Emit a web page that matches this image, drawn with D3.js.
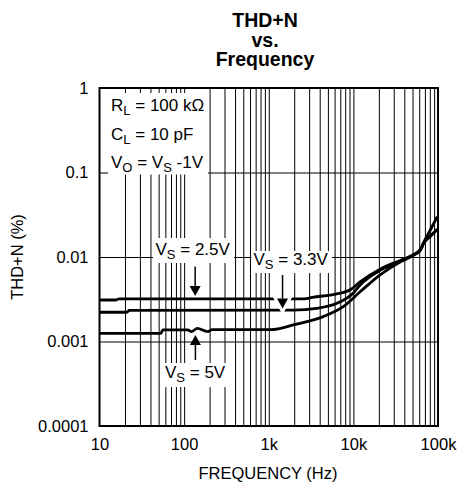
<!DOCTYPE html>
<html><head><meta charset="utf-8">
<script src="https://cdn.jsdelivr.net/npm/d3@7"></script>
<style>
html,body{margin:0;padding:0;background:#fff;}
svg{display:block;}
text{font-family:"Liberation Sans",Arial,Helvetica,sans-serif;fill:#000;}
</style></head>
<body>
<svg id="c" width="458" height="485"></svg>
<script>
// ---- data ----
const xTickValues = [10, 100, 1000, 10000, 100000];
const xTickLabels = ["10", "100", "1k", "10k", "100k"];
const yTickValues = [0.0001, 0.001, 0.01, 0.1, 1];
const yTickLabels = ["0.0001", "0.001", "0.01", "0.1", "1"];

const freq25 = [10, 15.7, 17, 1000, 2600, 3400, 5300, 9200, 12100, 20900, 35700, 47000, 61800, 68000, 81500, 98000];
const thd25  = [0.0031, 0.0031, 0.0032, 0.0032, 0.0032, 0.00335, 0.00355, 0.0041, 0.0051, 0.0072, 0.0091, 0.0102, 0.0122, 0.0150, 0.0210, 0.0300];

const freq33 = [10, 21, 22.5, 1950, 3700, 6400, 10000, 12100, 20900, 35700, 47000, 61800, 68000, 81500, 98000];
const thd33  = [0.00222, 0.00222, 0.00233, 0.00235, 0.00247, 0.00283, 0.00375, 0.0047, 0.0070, 0.0089, 0.0101, 0.0121, 0.0148, 0.0178, 0.0213];

const freq5 = [10, 53, 56, 110, 122, 143, 190, 215, 1040, 1370, 1960, 2360, 4400, 7600, 12100, 20900, 35700, 47000, 61800, 68000, 81500, 98000];
const thd5  = [0.00125, 0.00125, 0.00137, 0.00137, 0.00131, 0.00143, 0.00131, 0.00138, 0.00138, 0.00143, 0.00157, 0.00164, 0.00197, 0.00258, 0.0039, 0.0062, 0.0087, 0.0100, 0.0120, 0.0146, 0.0176, 0.0212];

const titleLines = ["THD+N", "vs.", "Frequency"];
const xTitle = "FREQUENCY (Hz)";
const yTitle = "THD+N (%)";

// ---- layout ----
const L = 99.5, R = 438, T = 88, B = 426;
const svg = d3.select("#c");
const x = d3.scaleLog().domain([10, 100000]).range([L, R]);
const y = d3.scaleLog().domain([0.0001, 1]).range([B, T]);

// grid (vertical: every 1..9 multiple)
const gridX = x.ticks().filter(v => v > 10 && v < 100000);
svg.append("g").attr("transform", `translate(0,${B})`)
  .call(d3.axisBottom(x).tickValues(gridX).tickSize(-(B - T)).tickFormat(""))
  .call(g => g.select(".domain").remove())
  .call(g => g.selectAll("line").attr("stroke", "#000").attr("stroke-width", 1));
svg.append("g").attr("transform", `translate(${L},0)`)
  .call(d3.axisLeft(y).tickValues(yTickValues.filter(v => v > 0.0001 && v < 1)).tickSize(-(R - L)).tickFormat(""))
  .call(g => g.select(".domain").remove())
  .call(g => g.selectAll("line").attr("stroke", "#000").attr("stroke-width", 1));

// white annotation boxes
const boxes = [[108, 93, 100, 81.5], [153, 238, 81, 25], [251.5, 251, 80.5, 22], [163, 363, 65, 24]];
svg.append("g").selectAll("rect").data(boxes).join("rect")
  .attr("x", d => d[0]).attr("y", d => d[1]).attr("width", d => d[2]).attr("height", d => d[3])
  .attr("fill", "#fff");

// annotation text helper (subscripts shift down 4px, following text shifts back)
function label(px, py, parts, size) {
  const t = svg.append("text").attr("x", px).attr("y", py).style("font-size", size + "px");
  let shifted = false;
  parts.forEach(p => {
    if (p.sub) {
      t.append("tspan").attr("dy", 4).style("font-size", "13px").text(p.sub);
      shifted = true;
    } else {
      const s = t.append("tspan").text(p.t);
      if (shifted) { s.attr("dy", -4); shifted = false; }
    }
  });
}
label(111, 111, [{t: "R"}, {sub: "L"}, {t: " = 100 k\u03A9"}], 17);
label(111, 139.5, [{t: "C"}, {sub: "L"}, {t: " = 10 pF"}], 17);
label(111, 168, [{t: "V"}, {sub: "O"}, {t: " = V"}, {sub: "S"}, {t: " -1V"}], 17);
label(155.5, 255, [{t: "V"}, {sub: "S"}, {t: " = 2.5V"}], 17);
label(253.5, 265, [{t: "V"}, {sub: "S"}, {t: " = 3.3V"}], 17);
label(165, 378, [{t: "V"}, {sub: "S"}, {t: " = 5V"}], 17);

// curves
const line = d3.line().x(d => x(d[0])).y(d => y(d[1])).curve(d3.curveMonotoneX);
const series = [
  d3.zip(freq25, thd25),
  d3.zip(freq33, thd33),
  d3.zip(freq5, thd5)
];
svg.append("g").selectAll("path").data(series).join("path")
  .attr("d", line).attr("fill", "none").attr("stroke", "#000")
  .attr("stroke-width", 2.8).attr("stroke-linejoin", "round");

// arrows
function arrow(f, y1, tip, dir, halo) {
  const ax = x(f);
  const hh = 10, hw = 5.5;
  const base = tip - dir * hh;
  const g = svg.append("g");
  const pts = `${ax - hw},${base} ${ax + hw},${base} ${ax},${tip}`;
  if (halo) g.append("polygon").attr("points", pts).attr("fill", "#fff").attr("stroke", "#fff").attr("stroke-width", 6);
  g.append("line").attr("x1", ax).attr("x2", ax).attr("y1", y1).attr("y2", base)
    .attr("stroke", "#000").attr("stroke-width", 1.5);
  g.append("polygon").attr("points", pts).attr("fill", "#000");
}
arrow(135, 266.5, 296, 1, false);
arrow(1456, 275, 308.5, 1, true);
arrow(136, 360, 335, -1, false);

// frame
svg.append("rect").attr("x", L).attr("y", T).attr("width", R - L).attr("height", B - T)
  .attr("fill", "none").attr("stroke", "#000").attr("stroke-width", 2);

// axes labels
svg.append("g").attr("transform", `translate(0,${B})`)
  .call(d3.axisBottom(x).tickValues(xTickValues).tickSize(0).tickPadding(12.5)
    .tickFormat((d, i) => xTickLabels[i]))
  .call(g => g.select(".domain").remove())
  .call(g => g.selectAll("text").style("font-size", "16.5px").attr("fill", "#000")
    .style("font-family", '"Liberation Sans",Arial,sans-serif'));
svg.append("g").attr("transform", `translate(${L},0)`)
  .call(d3.axisLeft(y).tickValues(yTickValues).tickSize(0).tickPadding(11)
    .tickFormat((d, i) => yTickLabels[i]))
  .call(g => g.select(".domain").remove())
  .call(g => g.selectAll("text").style("font-size", "16.5px").attr("fill", "#000")
    .style("font-family", '"Liberation Sans",Arial,sans-serif'));

// titles
const tb = [27, 46.5, 66];
svg.append("g").selectAll("text").data(titleLines).join("text")
  .attr("x", 265).attr("y", (d, i) => tb[i]).attr("text-anchor", "middle")
  .style("font-size", "19.5px").style("font-weight", "bold").text(d => d);
svg.append("text").attr("x", 268).attr("y", 479).attr("text-anchor", "middle")
  .style("font-size", "16.5px").text(xTitle);
svg.append("text").attr("transform", "translate(22.5,257) rotate(-90)").attr("text-anchor", "middle")
  .style("font-size", "16.5px").text(yTitle);
</script>
</body></html>
